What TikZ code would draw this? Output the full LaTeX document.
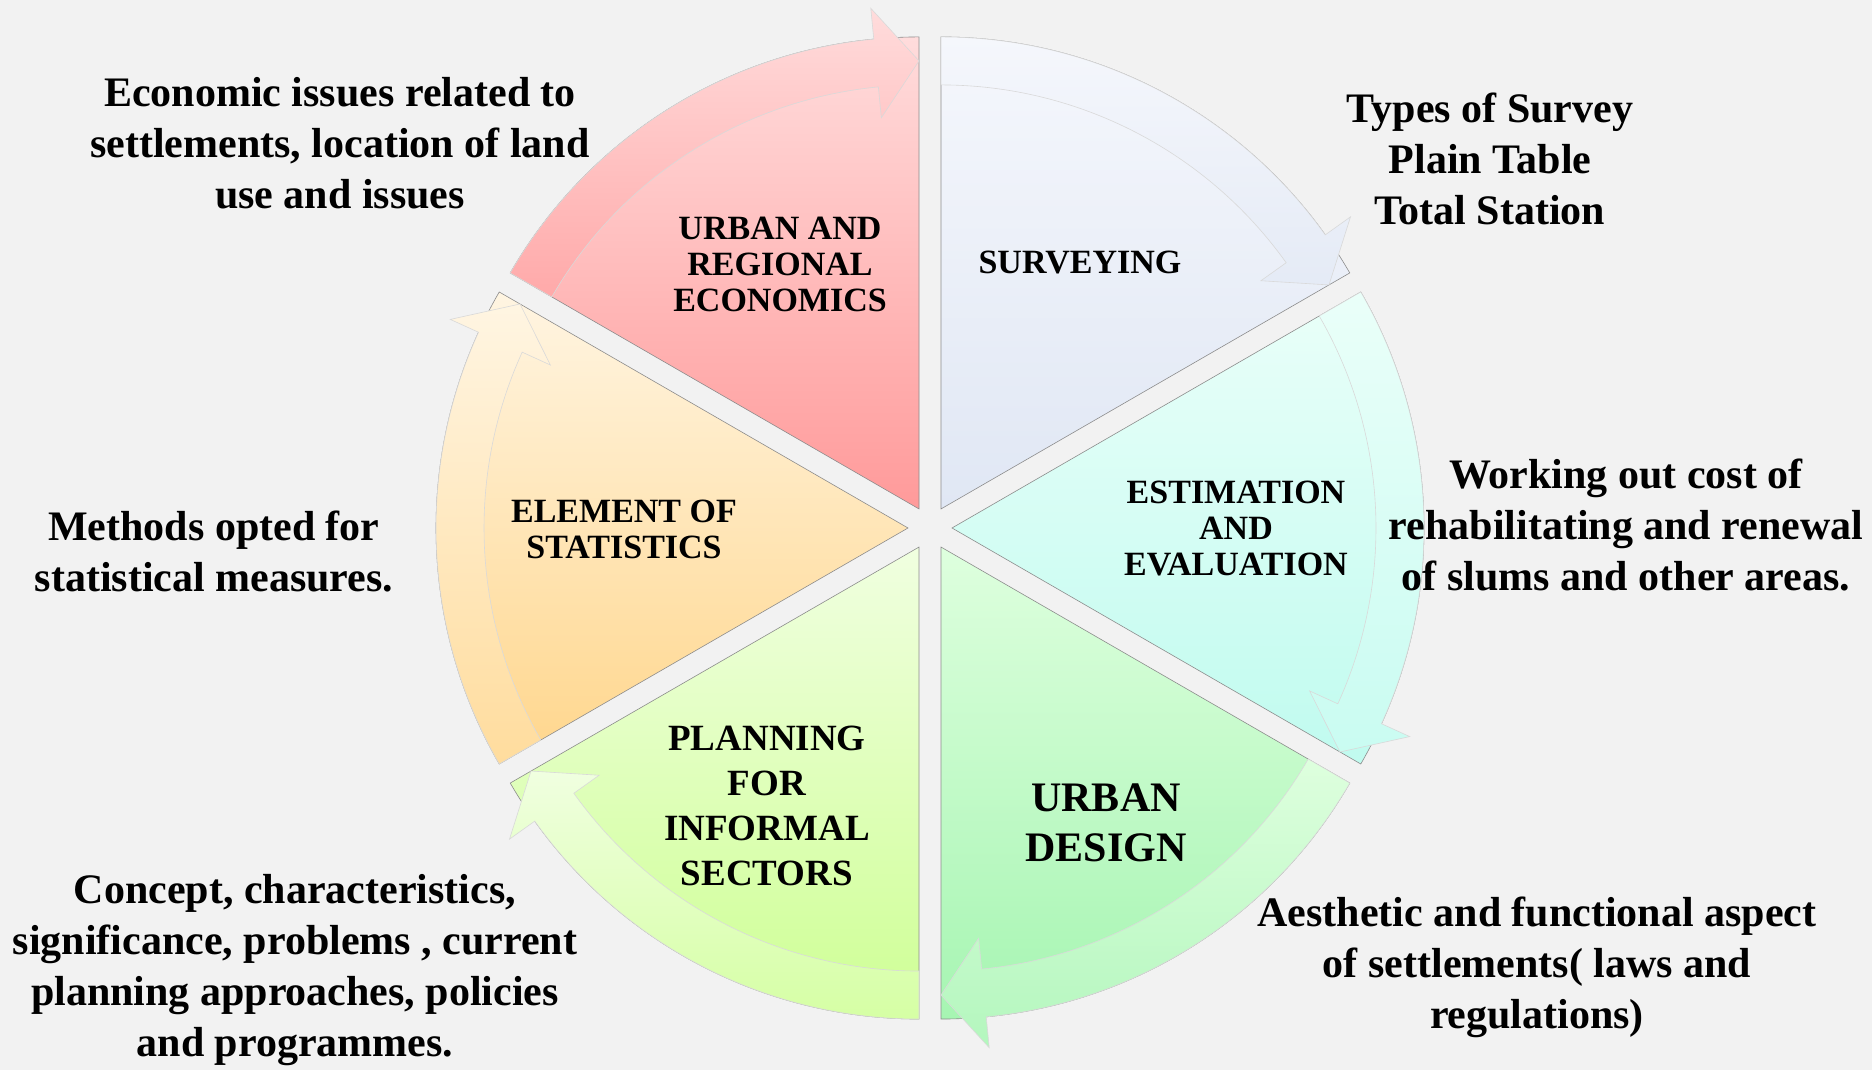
\documentclass[tikz,border=0pt]{standalone}
\usepackage{fontspec}
\setmainfont{Liberation Serif}

\definecolor{bggray}{HTML}{F2F2F2}
\definecolor{econhi}{HTML}{FFDCDC}
\definecolor{econlo}{HTML}{FF9A9A}
\definecolor{survhi}{HTML}{F5F7FC}
\definecolor{survlo}{HTML}{E0E7F4}
\definecolor{esthi}{HTML}{EAFFF9}
\definecolor{estlo}{HTML}{C0FBEF}
\definecolor{deshi}{HTML}{DEFFDE}
\definecolor{deslo}{HTML}{A6F5B2}
\definecolor{planhi}{HTML}{F0FFE0}
\definecolor{planlo}{HTML}{CEFF94}
\definecolor{elemhi}{HTML}{FFF5E2}
\definecolor{elemlo}{HTML}{FFD68C}

\begin{document}
\begin{tikzpicture}[x=1pt, y=1pt,
  every node/.style={align=center, text=black},
  sectorlabel/.style={font=\bfseries\fontsize{34}{36}\selectfont},
  notetext/.style={font=\bfseries\fontsize{42}{51}\selectfont}]

\fill[bggray] (0,0) rectangle (1872,1070);
\useasboundingbox (0,0) rectangle (1872,1070);

% Six sectors of the cycle, each with its curved arrow
\foreach \sa/\hi/\lo in {150/econhi/econlo, 90/survhi/survlo, 30/esthi/estlo,
                         -30/deshi/deslo, -90/planhi/planlo, -150/elemhi/elemlo}
{
    \pgfmathsetmacro{\ba}{\sa-30}
    \pgfmathsetmacro{\ea}{\sa-60}
    \pgfmathsetmacro{\ha}{\sa-54.5}
    \begin{scope}[shift={(930,542)}, shift={(\ba:22)}]
        \draw[draw=black!45, line width=0.6pt, top color=\hi, bottom color=\lo]
            (0,0) -- (\sa:472) arc[start angle=\sa, end angle=\ea, radius=472] -- cycle;
        \draw[draw=black!15, line width=0.6pt, top color=\hi, bottom color=\lo!85!white]
            (\sa:472) arc[start angle=\sa, end angle=\ha, radius=472]
            -- (\ha:503) -- (\ea:448) -- (\ha:393) -- (\ha:424)
            arc[start angle=\ha, end angle=\sa, radius=424] -- cycle;
    \end{scope}
}

\node[sectorlabel] (econ) at (780,806) {URBAN AND\\REGIONAL\\ECONOMICS};
\node[sectorlabel] (surv) at (1080,807) {SURVEYING};
\node[sectorlabel] (estim) at (1236,541) {ESTIMATION\\AND\\EVALUATION};
\node[font=\bfseries\fontsize{42}{50}\selectfont] (design) at (1106,247) {URBAN\\DESIGN};
\node[font=\bfseries\fontsize{37}{45}\selectfont] (plan) at (767,264) {PLANNING\\FOR\\INFORMAL\\SECTORS};
\node[sectorlabel] (elem) at (624,541) {ELEMENT OF\\STATISTICS};

\node[notetext] (econnote) at (340,927) {Economic issues related to\\settlements, location of land\\use and issues};
\node[notetext] (survnote) at (1490,911) {Types of Survey\\Plain Table\\Total Station};
\node[notetext] (estimnote) at (1626,545) {Working out cost of\\rehabilitating and renewal\\of slums and other areas.};
\node[notetext] (designnote) at (1537,103) {Aesthetic and functional aspect\\of settlements( laws and\\regulations)};
\node[notetext] (plannote) at (295,100) {Concept, characteristics,\\significance, problems , current\\planning approaches, policies\\and programmes.};
\node[notetext] (elemnote) at (214,518) {Methods opted for\\statistical measures.};

\end{tikzpicture}
\end{document}
